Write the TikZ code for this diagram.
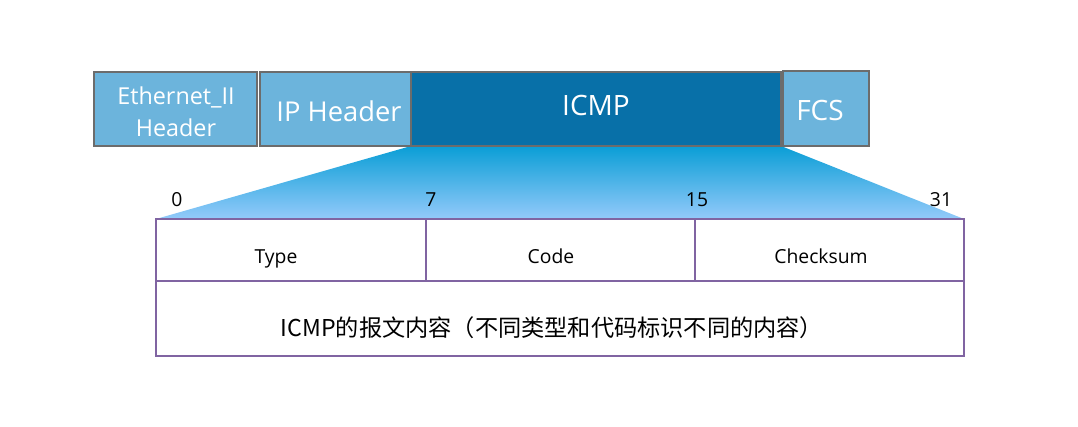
\documentclass[tikz,border=0pt]{standalone}
\usepackage{fontspec}
\setmainfont{Open Sans}
\newfontfamily\cjk{Noto Sans CJK SC}
\begin{document}
\begin{tikzpicture}[x=0.75pt,y=-0.75pt,
  hdr/.style={draw=gray!85!black,line width=2pt,fill=lightblue,inner sep=0pt},
  htxt/.style={text=white,inner sep=0pt,align=center},
  cell/.style={draw=gridpurple,line width=1.3pt,inner sep=0pt},
  ctxt/.style={inner sep=0pt,anchor=base,font=\fontsize{14.5}{16}\selectfont},
  bit/.style={font=\fontsize{14.5}{16}\selectfont,inner sep=0pt,anchor=base}]
\definecolor{lightblue}{HTML}{6CB4DC}
\definecolor{darkblue}{HTML}{0870A8}
\definecolor{gridpurple}{HTML}{8064A2}
\definecolor{gradtop}{HTML}{0A9ED6}
\definecolor{gradbot}{HTML}{94CAFA}
\useasboundingbox (0,0) rectangle (1078,427);
% trapezoid
\coordinate (tl) at (411,146);
\coordinate (tr) at (781,146);
\coordinate (bl) at (156,219);
\coordinate (br) at (964,219);
\shade[top color=gradtop,middle color=gradbot!75!gradtop,bottom color=gradbot] (tl) -- (tr) -- (br) -- (bl) -- cycle;
% header boxes
\node[hdr,minimum width=163*0.75pt,minimum height=74*0.75pt] (eth) at (175.5,109) {};
\node[hdr,minimum width=151*0.75pt,minimum height=74*0.75pt] (ip) at (335.5,109) {};
\node[hdr,fill=darkblue,minimum width=370*0.75pt,minimum height=74*0.75pt] (icmp) at (596,109) {};
\node[hdr,minimum width=86*0.75pt,minimum height=75*0.75pt] (fcs) at (826,108.5) {};
\node[htxt,font=\fontsize{17.5}{24}\selectfont] (etht) at (176,112) {Ethernet\_II\\Header};
\node[htxt,font=\fontsize{20.5}{22}\selectfont] (ipt) at (339,111) {IP Header};
\node[htxt,font=\fontsize{21}{22}\selectfont] (icmpt) at (596,106) {ICMP};
\node[htxt,font=\fontsize{21}{22}\selectfont] (fcst) at (820,111) {FCS};
% table
\node[cell,minimum width=270*0.75pt,minimum height=62*0.75pt] (type) at (291,250) {};
\node[cell,minimum width=269*0.75pt,minimum height=62*0.75pt] (code) at (560.5,250) {};
\node[cell,minimum width=269*0.75pt,minimum height=62*0.75pt] (chk) at (829.5,250) {};
\node[cell,minimum width=808*0.75pt,minimum height=75*0.75pt] (body) at (560,318.5) {};
\node[ctxt] (typet) at (276,264) {Type};
\node[ctxt] (codet) at (551,264) {Code};
\node[ctxt] (chkt) at (821,264) {Checksum};
\node[inner sep=0pt,font=\cjk\fontsize{17.4}{19}\selectfont] (bodyt) at (552,328) {ICMP的报文内容（不同类型和代码标识不同的内容）};
% bit labels
\node[bit] (b0) at (177,207) {0};
\node[bit] (b7) at (431,207) {7};
\node[bit] (b15) at (697,207) {15};
\node[bit] (b31) at (941,207) {31};
\end{tikzpicture}
\end{document}
